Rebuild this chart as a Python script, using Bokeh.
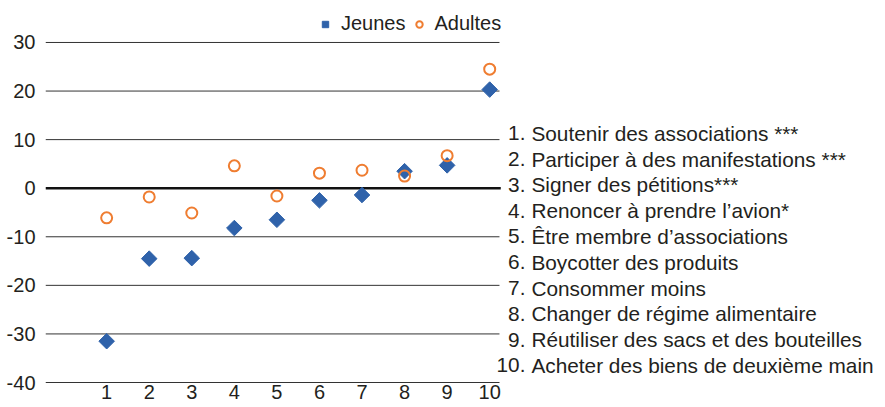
import math
from bokeh.plotting import figure
from bokeh.models import (ColumnDataSource, Range1d, FixedTicker, Legend, LegendItem)
from bokeh.core.properties import value
from bokeh.embed import file_html
from bokeh.resources import INLINE

# ---- data ----
ranks = [1, 2, 3, 4, 5, 6, 7, 8, 9, 10]
jeunes = [-31.5, -14.5, -14.4, -8.2, -6.5, -2.5, -1.4, 3.5, 4.7, 20.3]
adultes = [-6.1, -1.8, -5.1, 4.6, -1.6, 3.1, 3.7, 2.5, 6.7, 24.5]
y_ticks = [-40, -30, -20, -10, 0, 10, 20, 30]
item_numbers = ["1.", "2.", "3.", "4.", "5.", "6.", "7.", "8.", "9.", "10."]
item_texts = [
    "Soutenir des associations ***",
    "Participer à des manifestations ***",
    "Signer des pétitions***",
    "Renoncer à prendre l’avion*",
    "Être membre d’associations",
    "Boycotter des produits",
    "Consommer moins",
    "Changer de régime alimentaire",
    "Réutiliser des sacs et des bouteilles",
    "Acheter des biens de deuxième main",
]

FONT = "Liberation Sans"
TXT = "#231f20"
BLUE = "#2f62aa"
ORANGE = "#ef7d31"

# layout constants
X_START, X_END = -0.437, 19.30      # frame spans chart + item list on the right
GRID_END = 10.23                    # gridlines stop at the chart's right edge
Y_START, Y_END = -40.41, 38.64
LIST_NUM_X, LIST_TXT_X = 10.84, 10.98
LIST_TOP, LIST_STEP = 11.3, 5.31

src = ColumnDataSource(dict(x=ranks, j=jeunes, a=adultes))

p = figure(width=885, height=407, output_backend="svg", toolbar_location=None,
           x_range=Range1d(X_START, X_END), y_range=Range1d(Y_START, Y_END),
           min_border_left=45, min_border_right=0, min_border_top=0,
           min_border_bottom=23)
p.outline_line_color = None
p.background_fill_color = "white"
p.border_fill_color = "white"
p.xgrid.visible = False
p.ygrid.visible = False

# axes
p.xaxis.ticker = FixedTicker(ticks=ranks)
p.yaxis.ticker = FixedTicker(ticks=y_ticks)
p.yaxis.major_label_overrides = {t: str(t) for t in y_ticks}
for ax in (p.xaxis[0], p.yaxis[0]):
    ax.axis_line_color = None
    ax.major_tick_line_color = None
    ax.minor_tick_line_color = None
    ax.major_tick_out = 0
    ax.minor_tick_out = 0
    ax.major_label_text_font = FONT
    ax.major_label_text_font_size = "20px"
    ax.major_label_text_color = TXT
p.xaxis.major_label_standoff = 0
p.yaxis.major_label_standoff = 10

# horizontal grid lines (only across the chart area)
other = [t for t in y_ticks if t != 0]
p.segment(x0=[X_START] * len(other), x1=[GRID_END] * len(other), y0=other, y1=other,
          line_color="#333333", line_width=1)
p.segment(x0=[X_START], x1=[GRID_END + 0.03], y0=[0], y1=[0],
          line_color="#111111", line_width=2.6)

# points
r_j = p.scatter("x", "j", source=src, marker="square", angle=math.pi / 4, size=11,
                fill_color=BLUE, line_color=BLUE)
r_a = p.scatter("x", "a", source=src, marker="circle", size=11,
                fill_color="white", fill_alpha=0, line_color=ORANGE, line_width=2)

legend = Legend(items=[LegendItem(label="Jeunes", renderers=[r_j]),
                       LegendItem(label="Adultes", renderers=[r_a])],
                orientation="horizontal", location=(272, 349),
                label_text_font=FONT, label_text_font_size="20px",
                label_text_color=TXT, border_line_color=None,
                background_fill_alpha=0, glyph_width=16, glyph_height=16,
                label_standoff=8, spacing=5, padding=0, margin=0)
p.add_layout(legend, "center")

# right-hand list of items
ys = [LIST_TOP - LIST_STEP * i for i in range(len(item_texts))]
p.text(x=[LIST_NUM_X] * len(ys), y=ys, text=item_numbers, text_align="right",
       text_baseline="middle", text_font=value(FONT), text_font_size="20.8px",
       text_color=TXT)
p.text(x=[LIST_TXT_X] * len(ys), y=ys, text=item_texts, text_align="left",
       text_baseline="middle", text_font=value(FONT), text_font_size="20.8px",
       text_color=TXT)

open("out.html", "w").write(file_html(p, INLINE))
